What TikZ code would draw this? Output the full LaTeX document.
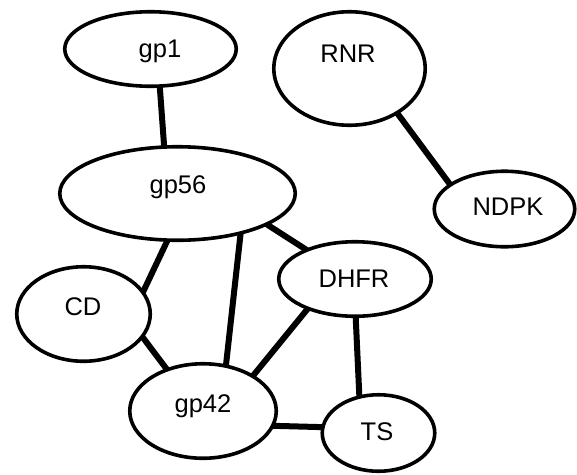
\documentclass[tikz,border=0pt]{standalone}
\usepackage{fontspec}
\setmainfont{Liberation Sans}
\usetikzlibrary{shapes.geometric}
\begin{document}
\begin{tikzpicture}[x=1pt,y=-1pt,
  protein/.style={ellipse,draw=black,line width=3.6pt,fill=white,inner sep=0pt,outer sep=0pt},
  lbl/.style={anchor=base,inner sep=0pt,font=\fontsize{25.5}{30}\selectfont},
  link/.style={line width=6pt}]
\useasboundingbox (0,0) rectangle (577,474);
% proteins
\node[protein,minimum width=171.5pt,minimum height=74.5pt]  (gp1)  at (150.5,49)  {};
\node[protein,minimum width=235.5pt,minimum height=93.5pt]  (gp56) at (177.5,193.5) {};
\node[protein,minimum width=151.5pt,minimum height=113.5pt] (RNR)  at (349.5,68.5) {};
\node[protein,minimum width=140.5pt,minimum height=75.5pt]  (NDPK) at (504.5,209)   {};
\node[protein,minimum width=133.5pt,minimum height=94.5pt]  (CD)   at (83.5,314)  {};
\node[protein,minimum width=146.5pt,minimum height=94.5pt]  (gp42) at (203,411)   {};
\node[protein,minimum width=152.5pt,minimum height=74.5pt]  (DHFR) at (355,279)   {};
\node[protein,minimum width=112.5pt,minimum height=76.5pt]  (TS)   at (378.5,433) {};
% names
\node[lbl] (t-gp1)  at (160,57)  {gp1};
\node[lbl] (t-gp56) at (178,193) {gp56};
\node[lbl] (t-RNR)  at (348,62)  {RNR};
\node[lbl] (t-NDPK) at (508,215) {NDPK};
\node[lbl] (t-CD)   at (83,315)  {CD};
\node[lbl] (t-gp42) at (203,412) {gp42};
\node[lbl] (t-DHFR) at (354,287) {DHFR};
\node[lbl] (t-TS)   at (377,440) {TS};
% interactions
\draw[link] (gp1.-76)   -- (gp56.106.6);
\draw[link] (RNR.-43)   -- (NDPK.156.8);
\draw[link] (gp56.-102) -- (CD.20.3);
\draw[link] (gp56.-32.4) -- (gp42.63.4);
\draw[link] (gp56.-19.9) -- (DHFR.149.2);
\draw[link] (CD.-21.1)  -- (gp42.131.5);
\draw[link] (DHFR.-148.2) -- (gp42.35.1);
\draw[link] (DHFR.-89)  -- (TS.118.3);
\draw[link] (gp42.-12)  -- (TS.174);
\end{tikzpicture}
\end{document}
